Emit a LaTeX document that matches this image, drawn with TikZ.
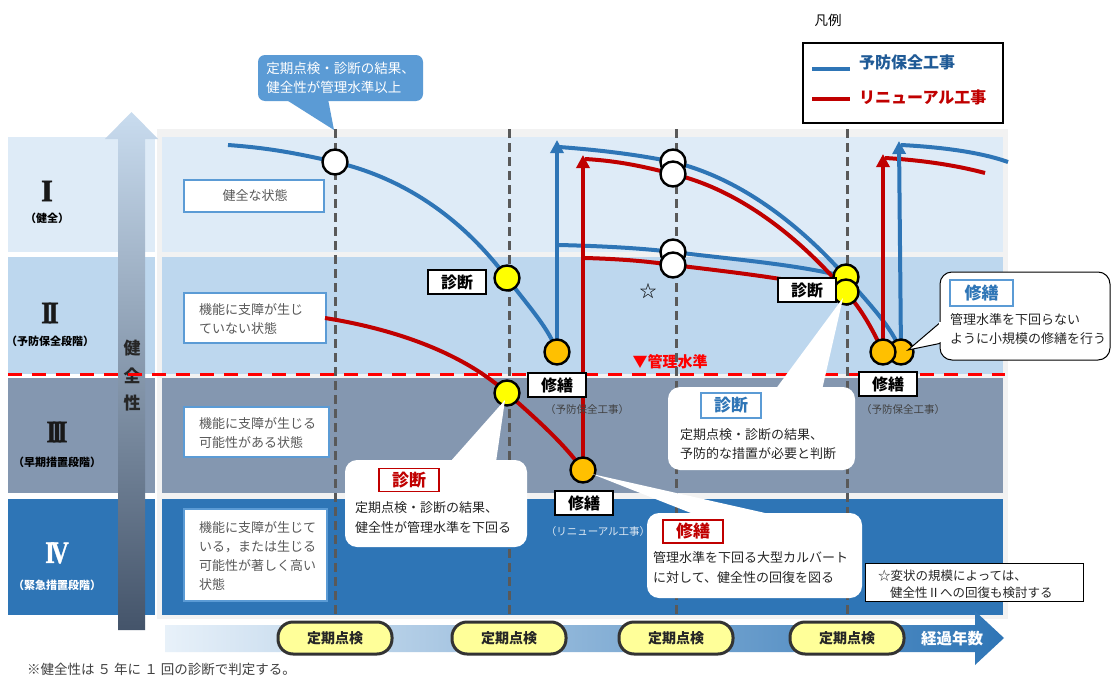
\documentclass[tikz,border=0pt]{standalone}
\usepackage{fontspec}
\usepackage{graphicx}
\setmainfont{Noto Sans CJK JP}
\newfontfamily\romanf[FakeBold=1.2]{Liberation Serif Bold}
\usetikzlibrary{arrows.meta}
\newcommand\fsz[2]{\fontsize{#1}{#2}\selectfont}
\definecolor{bandA}{HTML}{DEEBF7}
\definecolor{bandB}{HTML}{BDD7EE}
\definecolor{bandC}{HTML}{8497B0}
\definecolor{bandD}{HTML}{2E75B6}
\definecolor{frameg}{HTML}{F2F2F2}
\definecolor{pblue}{HTML}{2E75B6}
\definecolor{rred}{HTML}{C00000}
\definecolor{cblue}{HTML}{5B9BD5}
\definecolor{dgray}{HTML}{595959}
\definecolor{cyel}{HTML}{FFFF00}
\definecolor{corange}{HTML}{FFC000}
\definecolor{pillyel}{HTML}{FFFF99}
\definecolor{txtg}{HTML}{404040}
\definecolor{legblue}{HTML}{1F5A96}
\definecolor{arrtop}{HTML}{C9DCEF}
\definecolor{arrmid}{HTML}{8A9CB3}
\definecolor{arrbot}{HTML}{44546A}
\begin{document}
\begin{tikzpicture}[x=1pt,y=-1pt,
  descbox/.style={draw=cblue,line width=1.8pt,fill=white,inner sep=0},
  desctext/.style={text=dgray,font=\fsz{13}{19},align=left,inner sep=0,anchor=west},
  ctext/.style={text=black!85,font=\fsz{13}{20},align=left,inner sep=0,anchor=west},
  wcirc/.style={circle,draw=black,line width=2.4pt,fill=white,minimum size=25pt,inner sep=0},
  ycirc/.style={wcirc,fill=cyel},
  ocirc/.style={wcirc,fill=corange},
  tagbox/.style={draw=black,line width=1.2pt,fill=white,font=\fsz{16}{16}\bfseries,minimum width=58pt,minimum height=24pt,inner sep=0},
  redtag/.style={draw=rred,line width=1.4pt,fill=white,text=rred,font=\fsz{17}{17}\bfseries,minimum width=60pt,minimum height=23pt,inner sep=0},
  bluetag/.style={draw=cblue,line width=1.4pt,fill=white,text=pblue,font=\fsz{17}{17}\bfseries,minimum width=60pt,minimum height=25pt,inner sep=0},
  pill/.style={rounded corners=15pt,draw=black!80,line width=3pt,fill=pillyel,minimum width=114pt,minimum height=32pt,inner sep=0,font=\fsz{14}{14}\bfseries,text=black!85},
  bline/.style={pblue,line width=4pt},
  rline/.style={rred,line width=4pt},
  vdash/.style={dgray,line width=3pt,dash pattern=on 9pt off 5pt},
  smallnote/.style={font=\fsz{10.5}{12},text=txtg,inner sep=0},
  romanl/.style={font=\romanf\fsz{31}{31},inner sep=0,text=black!90},
  subl/.style={font=\fsz{11}{11}\bfseries,inner sep=0},
  arr/.style={-{Triangle[length=13pt,width=13pt]}}
]
\useasboundingbox (0,0) rectangle (1112,680);
\fill[white] (0,0) rectangle (1112,680);

% frame and bands
\fill[frameg] (157,129) rectangle (1008,619);
\foreach \ya/\yb/\c in {137/252/bandA,257/374/bandB,378/493/bandC,499/615/bandD}{
  \fill[\c] (8,\ya) rectangle (155,\yb);
  \fill[\c] (162,\ya) rectangle (1003,\yb);
}

% health arrow
\shade[top color=arrtop,middle color=arrmid,bottom color=arrbot]
  (118,630) -- (118,139) -- (105,139) -- (131.5,112) -- (158,139) -- (145,139) -- (145,630) -- cycle;
\node[font=\fsz{17}{27.5}\bfseries,align=center,text=black!85,inner sep=0] (kenzen) at (132,376) {健\\全\\性};

% left labels
\node[romanl] (r1) at (47,191) {I};
\node[subl] (s1) at (47,218) {（健全）};
\node[romanl] (r2) at (50,313) {\scalebox{0.9}[1]{I\kern-4.5pt I}};
\node[subl] (s2) at (50,341) {（予防保全段階）};
\node[romanl] (r3) at (57,432) {\scalebox{0.8}[1]{I\kern-5pt I\kern-5pt I}};
\node[subl] (s3) at (57,462) {（早期措置段階）};
\node[romanl,text=white] (r4) at (57,553) {\scalebox{0.8}[1]{I\kern-5pt V}};
\node[subl,text=white] (s4) at (57,585) {（緊急措置段階）};

% description boxes
\node[descbox,minimum width=140pt,minimum height=32pt] (d1) at (254,196) {};
\node[desctext,anchor=center] (t1) at (255,196) {健全な状態};
\node[descbox,minimum width=142pt,minimum height=50pt] (d2) at (255,318) {};
\node[desctext] (t2) at (199,319) {機能に支障が生じ\\ていない状態};
\node[descbox,minimum width=145pt,minimum height=50pt] (d3) at (256.5,432) {};
\node[desctext] (t3) at (199,433) {機能に支障が生じる\\可能性がある状態};
\node[descbox,minimum width=143pt,minimum height=92pt] (d4) at (255.5,555) {};
\node[desctext] (t4) at (199,556) {機能に支障が生じて\\いる，または生じる\\可能性が著しく高い\\状態};

% management level line
\coordinate (mlL) at (8,374);
\coordinate (mlR) at (1005,374);
\draw[red,line width=3pt,dash pattern=on 14pt off 10pt] (mlL) -- (mlR);
\node[text=red,font=\fsz{15}{15}\bfseries,inner sep=0] (kanri) at (670,362) {▼管理水準};

% vertical dashed inspection lines
\foreach \x/\n in {335/a,509/b,676/c,847/d}{
  \coordinate (vt\n) at (\x,129);
  \coordinate (vb\n) at (\x,616);
  \draw[vdash] (vt\n) -- (vb\n);
}

% timeline arrow
\shade[left color=bandA!70!white,middle color=bandB,right color=pblue]
  (165,625) -- (975,625) -- (975,611) -- (1004,638) -- (975,665) -- (975,652) -- (165,652) -- cycle;
\node[text=white,font=\fsz{15.5}{15.5}\bfseries,inner sep=0] (keika) at (952,639) {経過年数};
\node[pill] (p1) at (335,638) {定期点検};
\node[pill] (p2) at (509,638) {定期点検};
\node[pill] (p3) at (676,638) {定期点検};
\node[pill] (p4) at (847,638) {定期点検};

% coordinates of curve points
\coordinate (bA0) at (228,145);
\coordinate (pw1) at (335,162);
\coordinate (py1) at (507,278);
\coordinate (po1) at (557,352);
\coordinate (rA0) at (325,318);
\coordinate (py2) at (507,393);
\coordinate (po2) at (583,470);
\coordinate (bt1) at (557,140);
\coordinate (rt1) at (583,155);
\coordinate (bB0) at (559,147);
\coordinate (rC0) at (585,159);
\coordinate (bM0) at (559,245);
\coordinate (rM0) at (585,258);
\coordinate (pw2) at (673,162);
\coordinate (pw3) at (673,174);
\coordinate (pw4) at (673,252);
\coordinate (pw5) at (673,265);
\coordinate (py3) at (846,277);
\coordinate (py4) at (846,292);
\coordinate (po3) at (883,352);
\coordinate (po4) at (901,352);
\coordinate (rt2) at (883,154);
\coordinate (bt2) at (899,141);
\coordinate (rD0) at (885,158);
\coordinate (bD0) at (901,145);
\coordinate (rE) at (985,173);
\coordinate (bE) at (1008,162);

% curves
\draw[bline] (bA0) .. controls (270,148) and (300,154) .. (pw1) .. controls (400,177) and (460,215) .. (py1) .. controls (530,308) and (550,330) .. (po1);
\draw[rline] (rA0) .. controls (400,330) and (465,355) .. (py2) .. controls (540,422) and (565,445) .. (po2);
\draw[bline] (bM0) .. controls (600,246) and (640,248) .. (pw4) .. controls (740,260) and (800,265) .. (py3);
\draw[rline] (rM0) .. controls (620,259) and (645,261) .. (pw5) .. controls (740,273) and (800,280) .. (py4);
\draw[bline] (bB0) .. controls (600,150) and (640,155) .. (pw2) .. controls (740,178) and (800,225) .. (py3) .. controls (870,305) and (892,327) .. (po4);
\draw[rline] (rC0) .. controls (620,161) and (645,167) .. (pw3) .. controls (740,190) and (800,238) .. (py4) .. controls (862,310) and (873,330) .. (po3);
\draw[rline] (rD0) .. controls (920,160) and (955,165) .. (rE);
\draw[bline] (bD0) .. controls (940,147) and (980,152) .. (bE);
\draw[bline,arr] (po1) -- (bt1);
\draw[rline,arr] (po2) -- (rt1);
\draw[rline,arr] (po3) -- (rt2);
\draw[bline,arr] (po4) -- (bt2);

% circles
\node[wcirc] (w1) at (pw1) {};
\node[ycirc] (y1) at (py1) {};
\node[ocirc] (o1) at (po1) {};
\node[ycirc] (y2) at (py2) {};
\node[ocirc] (o2) at (po2) {};
\node[wcirc] (w2) at (pw2) {};
\node[wcirc] (w3) at (pw3) {};
\node[wcirc] (w4) at (pw4) {};
\node[wcirc] (w5) at (pw5) {};
\node[ycirc] (y3) at (py3) {};
\node[ycirc] (y4) at (py4) {};
\node[ocirc] (o4) at (po4) {};
\node[ocirc] (o3) at (po3) {};

% tags
\node[tagbox] (ld1) at (457,282) {診断};
\node[tagbox] (lr1) at (557,385) {修繕};
\node[smallnote] (n1) at (587,410) {（予防保全工事）};
\node[tagbox] (lr2) at (584,503) {修繕};
\node[smallnote,text=white!85!bandD] (n2) at (598,532) {（リニューアル工事）};
\node[tagbox] (ld2) at (807,290) {診断};
\node[tagbox] (lr3) at (888,384) {修繕};
\node[smallnote] (n3) at (903,410) {（予防保全工事）};
\node[font=\fsz{17}{17},inner sep=0] (star) at (648,291) {☆};

% top callout
\fill[cblue] (285,99) -- (328,99) -- (334,130) -- cycle;
\node[fill=cblue,rounded corners=7pt,minimum width=165pt,minimum height=46pt,inner sep=0] (topc) at (340.5,78) {};
\node[text=white,font=\fsz{13.5}{19.5},align=left,inner sep=0] (topt) at (340.5,78) {定期点検・診断の結果、\\健全性が管理水準以上};

% bottom-left diagnosis callout
\fill[white] (450,462) -- (505,400) -- (496,462) -- cycle;
\node[fill=white,rounded corners=12pt,minimum width=182pt,minimum height=87pt,inner sep=0] (c1) at (436,503.5) {};
\node[redtag] (c1t) at (409,480) {診断};
\node[ctext] (c1x) at (355,518) {定期点検・診断の結果、\\健全性が管理水準を下回る};

% bottom-middle repair callout
\fill[white] (696,515) -- (592,474) -- (774,515) -- cycle;
\node[fill=white,rounded corners=12pt,minimum width=215pt,minimum height=85pt,inner sep=0] (c2) at (754.5,555.5) {};
\node[redtag] (c2t) at (693,531.5) {修繕};
\node[ctext] (c2x) at (653,568) {管理水準を下回る大型カルバート\\に対して、健全性の回復を図る};

% middle-right diagnosis callout
\fill[white] (775,390) -- (843,298) -- (822,390) -- cycle;
\node[fill=white,rounded corners=12pt,minimum width=187pt,minimum height=83pt,inner sep=0] (c3) at (761.5,428.5) {};
\node[bluetag] (c3t) at (731,405.5) {診断};
\node[ctext,font=\fsz{13}{19}] (c3x) at (680,444) {定期点検・診断の結果、\\予防的な措置が必要と判断};

% right repair callout
\filldraw[fill=white,draw=black,line width=1pt] (942,321) -- (908,350) -- (942,343);
\node[fill=white,draw=black,line width=1pt,rounded corners=12pt,minimum width=170pt,minimum height=88pt,inner sep=0] (c4) at (1025,316) {};
\fill[white] (939,322) rectangle (944,342);
\node[bluetag,minimum width=63pt,minimum height=26pt] (c4t) at (981.5,293) {修繕};
\node[ctext,font=\fsz{13}{19}] (c4x) at (950,329) {管理水準を下回らない\\ように小規模の修繕を行う};

% star note
\node[draw=black,line width=1pt,fill=white,minimum width=218pt,minimum height=38pt,inner sep=0] (sn) at (974,582) {};
\node[ctext,font=\fsz{12.5}{17}] (snx) at (878,584.5) {☆変状の規模によっては、\\\hspace*{12pt}健全性Ⅱへの回復も検討する};

% legend
\node[font=\fsz{13.5}{13.5},inner sep=0] (hanrei) at (828,20) {凡例};
\node[draw=black,line width=1.2pt,minimum width=200pt,minimum height=80pt,inner sep=0] (leg) at (903,83) {};
\coordinate (lb1) at (812,69);
\coordinate (lb2) at (850,69);
\coordinate (lr1a) at (812,99);
\coordinate (lr2a) at (850,99);
\draw[bline] (lb1) -- (lb2);
\draw[rline] (lr1a) -- (lr2a);
\node[anchor=west,text=legblue,font=\fsz{16}{16}\bfseries,inner sep=0] (legb) at (859,62) {予防保全工事};
\node[anchor=west,text=rred,font=\fsz{16}{16}\bfseries,inner sep=0] (legr) at (859,97) {リニューアル工事};

% footnote
\node[anchor=west,font=\fsz{13.5}{13.5},text=txtg,inner sep=0] (foot) at (27,669) {※健全性は ５ 年に １ 回の診断で判定する。};
\end{tikzpicture}
\end{document}
